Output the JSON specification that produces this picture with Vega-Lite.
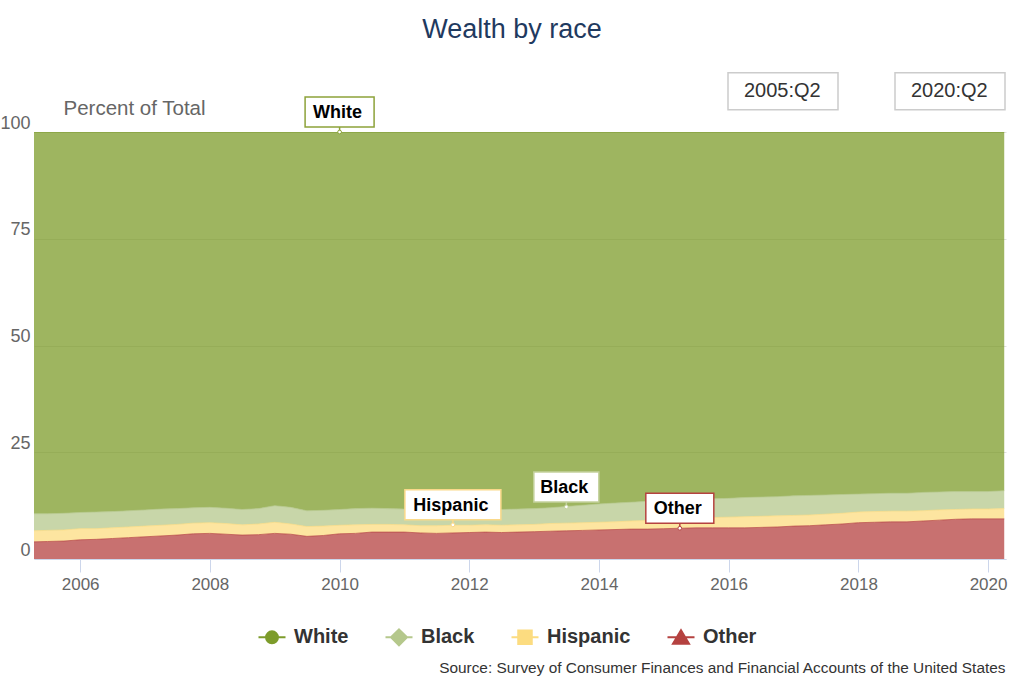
{
  "$schema": "https://vega.github.io/schema/vega-lite/v6.json",
  "width": 972,
  "height": 427,
  "autosize": {"type": "none"},
  "padding": {"left": 34, "top": 132, "right": 17, "bottom": 123},
  "background": "#ffffff",
  "config": {
    "font": "Liberation Sans",
    "view": {"stroke": null},
    "axis": {"labelFont": "Liberation Sans", "titleFont": "Liberation Sans"},
    "legend": {"labelFont": "Liberation Sans"}
  },
  "title": {
    "text": "Wealth by race",
    "frame": "group",
    "anchor": "middle",
    "fontSize": 27,
    "fontWeight": "normal",
    "color": "#1f3a5f",
    "offset": 15,
    "baseline": "alphabetic",
    "dx": -8
  },
  "datasets": {
    "wealth": [
      {"date": "2005-04-01", "White": 89.4, "Black": 4.0, "Hispanic": 2.6, "Other": 4.0},
      {"date": "2005-07-01", "White": 89.4, "Black": 3.9, "Hispanic": 2.6, "Other": 4.1},
      {"date": "2005-10-01", "White": 89.3, "Black": 3.9, "Hispanic": 2.6, "Other": 4.2},
      {"date": "2006-01-01", "White": 89.1, "Black": 3.8, "Hispanic": 2.6, "Other": 4.5},
      {"date": "2006-04-01", "White": 89.0, "Black": 3.9, "Hispanic": 2.5, "Other": 4.6},
      {"date": "2006-07-01", "White": 88.9, "Black": 3.8, "Hispanic": 2.5, "Other": 4.8},
      {"date": "2006-10-01", "White": 88.7, "Black": 3.8, "Hispanic": 2.5, "Other": 5.0},
      {"date": "2007-01-01", "White": 88.5, "Black": 3.8, "Hispanic": 2.5, "Other": 5.2},
      {"date": "2007-04-01", "White": 88.3, "Black": 3.8, "Hispanic": 2.5, "Other": 5.4},
      {"date": "2007-07-01", "White": 88.2, "Black": 3.7, "Hispanic": 2.5, "Other": 5.6},
      {"date": "2007-10-01", "White": 88.0, "Black": 3.6, "Hispanic": 2.5, "Other": 5.9},
      {"date": "2008-01-01", "White": 87.9, "Black": 3.6, "Hispanic": 2.5, "Other": 6.0},
      {"date": "2008-04-01", "White": 88.1, "Black": 3.6, "Hispanic": 2.5, "Other": 5.8},
      {"date": "2008-07-01", "White": 88.4, "Black": 3.6, "Hispanic": 2.4, "Other": 5.6},
      {"date": "2008-10-01", "White": 88.2, "Black": 3.6, "Hispanic": 2.5, "Other": 5.7},
      {"date": "2009-01-01", "White": 87.5, "Black": 3.9, "Hispanic": 2.6, "Other": 6.0},
      {"date": "2009-04-01", "White": 87.9, "Black": 3.9, "Hispanic": 2.4, "Other": 5.8},
      {"date": "2009-07-01", "White": 88.7, "Black": 3.7, "Hispanic": 2.3, "Other": 5.3},
      {"date": "2009-10-01", "White": 88.6, "Black": 3.7, "Hispanic": 2.2, "Other": 5.5},
      {"date": "2010-01-01", "White": 88.4, "Black": 3.7, "Hispanic": 2.0, "Other": 5.9},
      {"date": "2010-04-01", "White": 88.2, "Black": 3.8, "Hispanic": 2.0, "Other": 6.0},
      {"date": "2010-07-01", "White": 88.1, "Black": 3.8, "Hispanic": 1.8, "Other": 6.3},
      {"date": "2010-10-01", "White": 88.2, "Black": 3.7, "Hispanic": 1.8, "Other": 6.3},
      {"date": "2011-01-01", "White": 88.3, "Black": 3.7, "Hispanic": 1.7, "Other": 6.3},
      {"date": "2011-04-01", "White": 88.4, "Black": 3.8, "Hispanic": 1.7, "Other": 6.1},
      {"date": "2011-07-01", "White": 88.5, "Black": 3.7, "Hispanic": 1.8, "Other": 6.0},
      {"date": "2011-10-01", "White": 88.5, "Black": 3.6, "Hispanic": 1.8, "Other": 6.1},
      {"date": "2012-01-01", "White": 88.4, "Black": 3.7, "Hispanic": 1.7, "Other": 6.2},
      {"date": "2012-04-01", "White": 88.4, "Black": 3.6, "Hispanic": 1.7, "Other": 6.3},
      {"date": "2012-07-01", "White": 88.4, "Black": 3.7, "Hispanic": 1.7, "Other": 6.2},
      {"date": "2012-10-01", "White": 88.3, "Black": 3.7, "Hispanic": 1.7, "Other": 6.3},
      {"date": "2013-01-01", "White": 88.2, "Black": 3.7, "Hispanic": 1.7, "Other": 6.4},
      {"date": "2013-04-01", "White": 88.0, "Black": 3.7, "Hispanic": 1.8, "Other": 6.5},
      {"date": "2013-07-01", "White": 87.7, "Black": 3.9, "Hispanic": 1.8, "Other": 6.6},
      {"date": "2013-10-01", "White": 87.4, "Black": 4.1, "Hispanic": 1.8, "Other": 6.7},
      {"date": "2014-01-01", "White": 87.1, "Black": 4.3, "Hispanic": 1.8, "Other": 6.8},
      {"date": "2014-04-01", "White": 86.9, "Black": 4.4, "Hispanic": 1.8, "Other": 6.9},
      {"date": "2014-07-01", "White": 86.7, "Black": 4.4, "Hispanic": 1.9, "Other": 7.0},
      {"date": "2014-10-01", "White": 86.5, "Black": 4.5, "Hispanic": 2.0, "Other": 7.0},
      {"date": "2015-01-01", "White": 86.4, "Black": 4.4, "Hispanic": 2.1, "Other": 7.1},
      {"date": "2015-04-01", "White": 86.2, "Black": 4.4, "Hispanic": 2.2, "Other": 7.2},
      {"date": "2015-07-01", "White": 86.0, "Black": 4.4, "Hispanic": 2.3, "Other": 7.3},
      {"date": "2015-10-01", "White": 85.9, "Black": 4.4, "Hispanic": 2.4, "Other": 7.3},
      {"date": "2016-01-01", "White": 85.8, "Black": 4.4, "Hispanic": 2.5, "Other": 7.3},
      {"date": "2016-04-01", "White": 85.6, "Black": 4.5, "Hispanic": 2.6, "Other": 7.3},
      {"date": "2016-07-01", "White": 85.5, "Black": 4.5, "Hispanic": 2.6, "Other": 7.4},
      {"date": "2016-10-01", "White": 85.4, "Black": 4.5, "Hispanic": 2.6, "Other": 7.5},
      {"date": "2017-01-01", "White": 85.2, "Black": 4.6, "Hispanic": 2.5, "Other": 7.7},
      {"date": "2017-04-01", "White": 85.1, "Black": 4.6, "Hispanic": 2.5, "Other": 7.8},
      {"date": "2017-07-01", "White": 85.0, "Black": 4.5, "Hispanic": 2.5, "Other": 8.0},
      {"date": "2017-10-01", "White": 84.9, "Black": 4.4, "Hispanic": 2.5, "Other": 8.2},
      {"date": "2018-01-01", "White": 84.8, "Black": 4.2, "Hispanic": 2.5, "Other": 8.5},
      {"date": "2018-04-01", "White": 84.7, "Black": 4.2, "Hispanic": 2.5, "Other": 8.6},
      {"date": "2018-07-01", "White": 84.6, "Black": 4.2, "Hispanic": 2.5, "Other": 8.7},
      {"date": "2018-10-01", "White": 84.6, "Black": 4.2, "Hispanic": 2.5, "Other": 8.7},
      {"date": "2019-01-01", "White": 84.4, "Black": 4.3, "Hispanic": 2.4, "Other": 8.9},
      {"date": "2019-04-01", "White": 84.3, "Black": 4.2, "Hispanic": 2.4, "Other": 9.1},
      {"date": "2019-07-01", "White": 84.2, "Black": 4.2, "Hispanic": 2.3, "Other": 9.3},
      {"date": "2019-10-01", "White": 84.2, "Black": 4.1, "Hispanic": 2.3, "Other": 9.4},
      {"date": "2020-01-01", "White": 84.2, "Black": 4.1, "Hispanic": 2.3, "Other": 9.4},
      {"date": "2020-04-01", "White": 84.0, "Black": 4.2, "Hispanic": 2.4, "Other": 9.4}
    ],
    "stackorder": [
      {"series": "Other", "rank": 1},
      {"series": "Hispanic", "rank": 2},
      {"series": "Black", "rank": 3},
      {"series": "White", "rank": 4}
    ],
    "notes": [
      {"date": "2010-01-01", "v": 100, "label": "White"},
      {"date": "2011-10-01", "v": 8.0, "label": "Hispanic"},
      {"date": "2013-07-01", "v": 12.2, "label": "Black"},
      {"date": "2015-04-01", "v": 7.2, "label": "Other"}
    ]
  },
  "layer": [
    {
      "data": {"name": "wealth"},
      "transform": [
        {"fold": ["Other", "Hispanic", "Black", "White"], "as": ["series", "share"]},
        {"lookup": "series", "from": {"data": {"name": "stackorder"}, "key": "series", "fields": ["rank"]}}
      ],
      "mark": {"type": "area", "fillOpacity": 0.75, "clip": true, "line": {"strokeWidth": 1, "strokeOpacity": 0.7}},
      "encoding": {
        "x": {
          "field": "date",
          "type": "temporal",
          "scale": {"domain": [{"year": 2005, "month": 4, "date": 16}, {"year": 2020, "month": 4, "date": 11}]},
          "axis": {
            "title": "Source: Survey of Consumer Finances and Financial Accounts of the United States",
            "titleFontSize": 15.4,
            "titleFontWeight": "normal",
            "titleColor": "#333333",
            "titleAlign": "right",
            "titleBaseline": "alphabetic",
            "titleX": 971,
            "titleY": 113,
            "format": "%Y",
            "tickCount": {"interval": "year", "step": 2},
            "grid": false,
            "domainColor": "#ccd6eb",
            "tickColor": "#ccd6eb",
            "tickSize": 13,
            "labelFontSize": 17,
            "labelColor": "#666666",
            "labelPadding": 4,
            "labelFlush": false,
            "labelOverlap": false
          }
        },
        "y": {
          "field": "share",
          "type": "quantitative",
          "stack": "zero",
          "scale": {"domain": [0, 100], "nice": false},
          "axis": {
            "title": "Percent of Total",
            "titleAngle": 0,
            "titleAlign": "left",
            "titleBaseline": "alphabetic",
            "titleX": 29,
            "titleY": -18,
            "titleFontSize": 20.5,
            "titleFontWeight": "normal",
            "titleColor": "#666666",
            "values": [0, 25, 50, 75, 100],
            "domain": false,
            "ticks": false,
            "labelFontSize": 18,
            "labelColor": "#666666",
            "labelPadding": 4,
            "labelBaseline": "alphabetic",
            "labelOffset": -4,
            "labelFlush": false,
            "gridColor": "#e0e0e0"
          }
        },
        "color": {
          "field": "series",
          "type": "nominal",
          "scale": {"domain": ["White", "Black", "Hispanic", "Other"], "range": ["#7d9c2b", "#b5c88c", "#fcdc80", "#b54240"]},
          "legend": null
        },
        "order": {"field": "rank", "type": "quantitative", "sort": "ascending"}
      }
    },
    {
      "data": {"name": "wealth"},
      "transform": [{"fold": ["Other", "Hispanic", "Black", "White"], "as": ["series", "share"]}, {"filter": "false"}],
      "mark": {"type": "point", "filled": true, "opacity": 1, "strokeWidth": 2},
      "encoding": {
        "x": {"field": "date", "type": "temporal"},
        "y": {"field": "share", "type": "quantitative"},
        "color": {
          "field": "series",
          "type": "nominal",
          "scale": {"domain": ["White", "Black", "Hispanic", "Other"], "range": ["#7d9c2b", "#b5c88c", "#fcdc80", "#b54240"]},
          "legend": {
            "orient": "none", "legendX": 228, "legendY": 495, "direction": "horizontal", "title": null,
            "labelFontSize": 20, "labelFontWeight": "bold", "labelColor": "#333333",
            "symbolSize": 285, "symbolStrokeWidth": 2, "labelOffset": 12, "columnPadding": 32, "padding": 0
          }
        },
        "stroke": {
          "field": "series",
          "type": "nominal",
          "scale": {"domain": ["White", "Black", "Hispanic", "Other"], "range": ["#7d9c2b", "#b5c88c", "#fcdc80", "#b54240"]},
          "legend": {
            "orient": "none", "legendX": 228, "legendY": 495, "direction": "horizontal", "title": null,
            "labelFontSize": 20, "labelFontWeight": "bold", "labelColor": "#333333",
            "symbolSize": 285, "symbolStrokeWidth": 2, "labelOffset": 12, "columnPadding": 32, "padding": 0
          }
        },
        "shape": {
          "field": "series",
          "type": "nominal",
          "scale": {
            "domain": ["White", "Black", "Hispanic", "Other"],
            "range": [
              "M0,-1.1L0,-1.1M0,1.1L0,1.1M-1.6,0H1.6M-0.71,0A0.71,0.71,0,1,1,0.71,0A0.71,0.71,0,1,1,-0.71,0Z",
              "M0,-1.1L0,-1.1M0,1.1L0,1.1M-1.6,0H1.6M0,-0.95L0.95,0L0,0.95L-0.95,0Z",
              "M0,-1.1L0,-1.1M0,1.1L0,1.1M-1.6,0H1.6M-0.8,-0.8H0.8V0.8H-0.8Z",
              "M0,-1.1L0,-1.1M0,1.1L0,1.1M-1.6,0H1.6M0,-0.85L0.95,0.75H-0.95Z"
            ]
          },
          "legend": {
            "orient": "none", "legendX": 228, "legendY": 495, "direction": "horizontal", "title": null,
            "labelFontSize": 20, "labelFontWeight": "bold", "labelColor": "#333333",
            "symbolSize": 285, "symbolStrokeWidth": 2, "labelOffset": 12, "columnPadding": 32, "padding": 0
          }
        }
      }
    },
    {
      "data": {"name": "notes"},
      "mark": {"type": "point", "filled": true, "fill": "#ffffff", "opacity": 1, "size": 400, "strokeWidth": 1.5},
      "encoding": {
        "x": {"field": "date", "type": "temporal"},
        "y": {"field": "v", "type": "quantitative"},
        "shape": {
          "field": "label",
          "type": "nominal",
          "scale": {
            "domain": ["White", "Black", "Hispanic", "Other"],
            "range": [
              "M-3.45,-3.5H3.45V-0.5H-3.45ZM0,-0.5V0",
              "M-3.25,-3.5H3.25V-0.5H-3.25ZM0,-0.5V0",
              "M-4.8,-3.5H4.8V-0.5H-4.8ZM0,-0.5V0",
              "M-3.4,-3.5H3.4V-0.5H-3.4ZM0,-0.5V0"
            ]
          },
          "legend": null
        },
        "stroke": {
          "field": "label",
          "type": "nominal",
          "scale": {"domain": ["White", "Black", "Hispanic", "Other"], "range": ["#8da23a", "#c3d19c", "#fad98a", "#b54240"]},
          "legend": null
        }
      }
    },
    {
      "data": {"name": "notes"},
      "mark": {"type": "point", "shape": "circle", "filled": true, "fill": "#ffffff", "opacity": 1, "size": 14, "strokeWidth": 1},
      "encoding": {
        "x": {"field": "date", "type": "temporal"},
        "y": {"field": "v", "type": "quantitative"},
        "stroke": {
          "field": "label",
          "type": "nominal",
          "scale": {"domain": ["White", "Black", "Hispanic", "Other"], "range": ["#8da23a", "#c3d19c", "#fad98a", "#b54240"]},
          "legend": null
        }
      }
    },
    {
      "data": {"name": "notes"},
      "mark": {"type": "text", "dy": -19, "dx": -2, "fontSize": 18, "fontWeight": "bold", "color": "#000000", "baseline": "middle", "align": "center"},
      "encoding": {
        "x": {"field": "date", "type": "temporal"},
        "y": {"field": "v", "type": "quantitative"},
        "text": {"field": "label"}
      }
    },
    {
      "data": {"name": "wealth"},
      "transform": [{"filter": "false"}],
      "mark": {"type": "point", "filled": true, "fill": "#ffffff", "stroke": "#cccccc"},
      "encoding": {
        "x": {"field": "date", "type": "temporal"},
        "y": {"field": "White", "type": "quantitative"},
        "opacity": {
          "field": "period",
          "type": "ordinal",
          "scale": {"domain": ["2005:Q2", "2020:Q2"], "range": [1, 1]},
          "legend": {
            "orient": "none", "legendX": 738, "legendY": -52, "direction": "horizontal", "title": null,
            "labelFontSize": 20, "labelColor": "#333333",
            "symbolType": "M-5.5,-1.85H5.5V1.85H-5.5Z", "symbolSize": 400, "symbolStrokeWidth": 1.5,
            "labelOffset": -50, "columnPadding": 51, "padding": 0,
            "encode": {"symbols": {"update": {"fill": {"value": "#ffffff"}, "stroke": {"value": "#cccccc"}, "strokeWidth": {"value": 1.5}, "opacity": {"value": 1}}}}
          }
        }
      }
    }
  ],
  "resolve": {"scale": {"color": "independent", "shape": "independent", "stroke": "independent"}}
}
